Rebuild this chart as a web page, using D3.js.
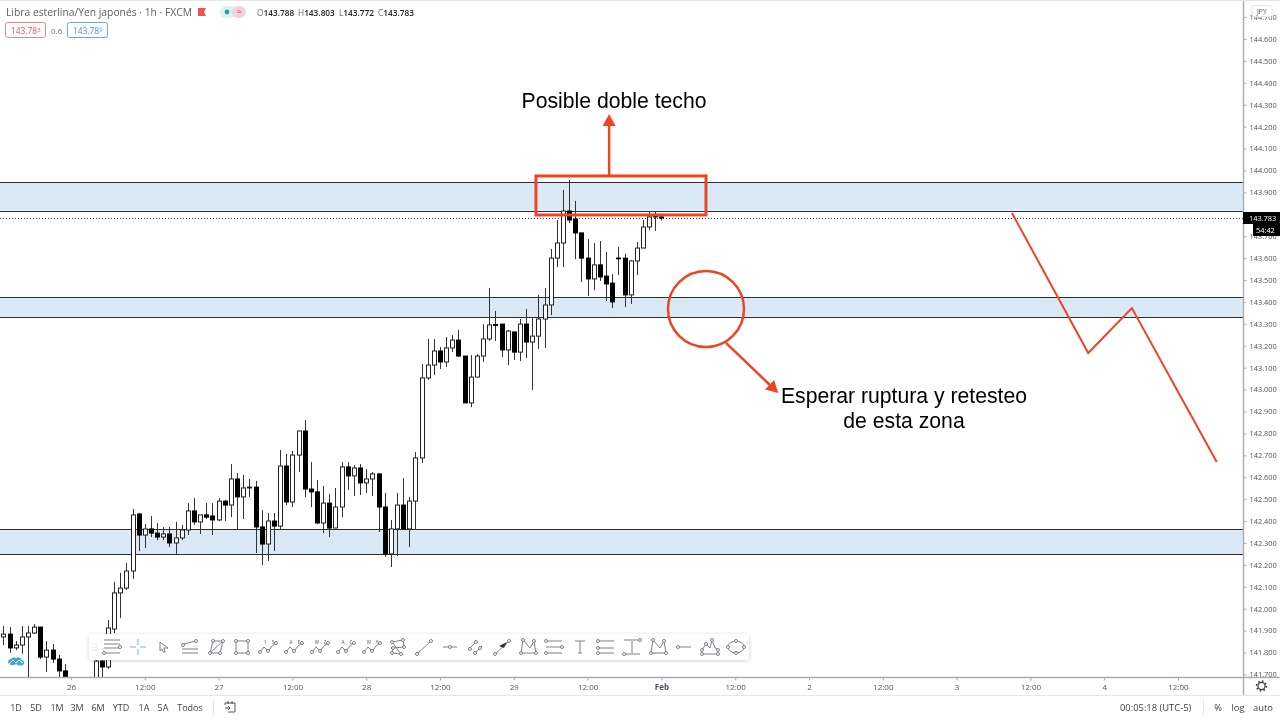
<!DOCTYPE html>
<html>
<head>
<meta charset="utf-8">
<script src="https://d3js.org/d3.v7.min.js"></script>
<style>
  html, body { margin: 0; padding: 0; background: #fff; }
  svg { display: block; filter: blur(0.35px); font-family: "Open Sans", sans-serif; }
</style>
</head>
<body>
<svg id="chart" width="1280" height="720"></svg>
<script>
// Hourly candles, index 0 = the "26" tick. null = below the visible price range
const firstIndex = -11;
const opens = [
  141.871,141.884,141.821,141.834,141.871,141.889,141.916,141.779,141.811,141.770,
  141.716,null,null,null,null,141.640,141.761,141.734,141.907,142.072,
  142.094,142.172,142.432,142.336,142.364,142.345,142.327,142.341,142.300,142.323,
  142.359,142.446,142.396,142.428,142.423,142.405,142.491,142.473,142.592,142.510,
  142.551,142.555,142.373,142.295,142.400,142.377,142.651,142.487,142.701,142.811,
  142.546,142.533,142.391,142.482,142.368,142.464,142.647,142.606,142.642,142.574,
  142.592,142.615,142.464,142.250,142.364,142.473,142.364,142.491,142.688,143.053,
  143.112,143.176,143.126,143.190,143.226,143.153,142.939,143.057,143.153,143.231,
  143.297,143.299,143.181,143.263,143.171,143.299,143.217,143.244,143.322,143.386,
  143.600,143.669,143.815,143.778,143.715,143.600,143.505,143.569,143.518,143.486,
  143.600,143.600,143.432,143.587,143.646,143.742,143.792,143.788
];
const highs = [
  141.921,141.916,141.852,141.921,141.921,141.930,141.916,141.852,141.839,141.789,
  141.747,null,null,null,null,141.770,141.789,141.948,142.122,142.163,
  142.208,142.455,142.437,142.386,142.423,142.391,142.373,142.373,142.396,142.382,
  142.482,142.505,142.428,142.482,142.482,142.505,142.496,142.660,142.619,142.610,
  142.592,142.583,142.450,142.437,142.437,142.724,142.706,142.720,142.811,142.861,
  142.669,142.587,142.560,142.523,142.551,142.669,142.669,142.656,142.660,142.637,
  142.624,142.619,142.528,142.405,142.528,142.596,142.510,142.715,143.117,143.231,
  143.231,143.194,143.240,143.249,143.272,143.153,143.158,143.162,143.299,143.464,
  143.359,143.299,143.272,143.263,143.322,143.368,143.331,143.432,143.464,143.642,
  143.774,143.911,143.956,143.861,143.715,143.687,143.669,143.678,143.628,143.527,
  143.651,143.619,143.591,143.673,143.774,143.810,143.815,143.803
];
const lows = [
  141.834,141.798,141.811,141.779,141.688,141.884,141.770,141.711,141.752,141.688,
  141.640,null,null,null,null,141.620,141.660,141.725,141.889,141.957,
  142.085,142.136,142.263,142.277,142.327,142.313,142.313,142.282,142.250,142.313,
  142.336,142.382,142.341,142.409,142.336,142.400,142.400,142.418,142.364,142.409,
  142.510,142.254,142.199,142.218,142.263,142.364,142.473,142.464,142.624,142.510,
  142.464,142.386,142.345,142.327,142.368,142.418,142.542,142.514,142.519,142.528,
  142.514,142.350,142.236,142.190,142.240,142.364,142.282,142.359,142.665,143.044,
  143.066,143.094,143.103,143.171,143.149,142.939,142.920,143.057,143.126,143.222,
  143.222,143.149,143.112,143.135,143.130,143.144,142.998,143.185,143.190,143.340,
  143.559,143.559,143.760,143.596,143.491,143.427,143.454,143.496,143.404,143.372,
  143.523,143.377,143.391,143.523,143.646,143.728,143.724,143.772
];
const closes = [
  141.884,141.821,141.834,141.871,141.889,141.916,141.779,141.811,141.770,141.716,
  141.660,null,null,null,null,141.761,141.734,141.912,142.072,142.094,
  142.172,142.428,142.336,142.364,142.345,142.327,142.341,142.300,142.323,142.359,
  142.446,142.396,142.428,142.418,142.405,142.491,142.473,142.592,142.510,142.551,
  142.555,142.373,142.295,142.400,142.377,142.651,142.487,142.701,142.811,142.546,
  142.533,142.391,142.482,142.368,142.464,142.647,142.606,142.642,142.574,142.592,
  142.615,142.464,142.250,142.364,142.473,142.364,142.491,142.688,143.053,143.112,
  143.176,143.126,143.190,143.226,143.153,142.939,143.057,143.153,143.231,143.295,
  143.293,143.181,143.267,143.171,143.299,143.217,143.244,143.322,143.386,143.600,
  143.669,143.815,143.774,143.715,143.600,143.505,143.569,143.514,143.482,143.400,
  143.597,143.432,143.587,143.646,143.742,143.788,143.788,143.783
];

// Support / resistance zones
const zoneTops = [143.945, 143.418, 142.361];
const zoneBottoms = [143.815, 143.327, 142.247];

// Axis ticks
const timeTicks = [0, 12, 24, 36, 48, 60, 72, 84, 96, 108, 120, 132, 144, 156, 168, 180];
const timeLabels = ["26", "12:00", "27", "12:00", "28", "12:00", "29", "12:00", "Feb", "12:00", "2", "12:00", "3", "12:00", "4", "12:00"];
const priceTicks = d3.range(141.7, 144.75, 0.1);
const lastPrice = 143.783;

// Drawings, in candle index / price
const boxIndex = [75.6, 103.25];
const boxPrice = [143.975, 143.797];
const upArrowIndex = [87.5, 87.5];
const upArrowPrice = [143.975, 144.258];
const circleIndex = 103.25;
const circlePrice = 143.368;
const downArrowIndex = [106.5, 115];
const downArrowPrice = [143.213, 142.984];
const zigzagIndex = [153, 165.4, 172.5, 186.3];
const zigzagPrice = [143.806, 143.167, 143.372, 142.669];

const rangeButtons = ["1D", "5D", "1M", "3M", "6M", "YTD", "1A", "5A", "Todos"];
const rangeCenters = [16, 36, 57, 77, 98, 121, 144, 163, 190];
const waveLabels = [["1", "5"], ["A", "E"], ["W", "Z"], ["A", "C"], ["W", "Y"]];

const plotW = 1243, plotH = 677;
const red = "#ef4423", textCol = "#50535e", axisCol = "#a9acb5", iconCol = "#6f727d";

const x = d3.scaleLinear().domain([-71 / 6.15, (plotW - 71) / 6.15]).range([0, plotW]);
const y = d3.scaleLinear().domain([144.778, 141.6882]).range([0, plotH]);

const svg = d3.select("#chart");
svg.append("clipPath").attr("id", "plot").append("rect").attr("width", plotW).attr("height", plotH);
const plot = svg.append("g").attr("clip-path", "url(#plot)");

// zones
plot.selectAll("rect.zone").data(d3.range(zoneTops.length)).join("rect")
  .attr("class", "zone")
  .attr("x", 0).attr("width", plotW)
  .attr("y", i => Math.floor(y(zoneTops[i])))
  .attr("height", i => y(zoneBottoms[i]) - y(zoneTops[i]))
  .attr("fill", "#dbe9f6");
plot.selectAll("line.zone").data([...zoneTops, ...zoneBottoms]).join("line")
  .attr("class", "zone")
  .attr("x1", 0).attr("x2", plotW)
  .attr("y1", d => Math.floor(y(d)) + 0.5).attr("y2", d => Math.floor(y(d)) + 0.5)
  .attr("stroke", "#2a2e39");

// last price line
plot.append("line")
  .attr("x1", 0).attr("x2", plotW)
  .attr("y1", Math.round(y(lastPrice)) + 0.5).attr("y2", Math.round(y(lastPrice)) + 0.5)
  .attr("stroke", "#333").attr("stroke-dasharray", "1 2");

// candles
const rows = d3.range(opens.length).filter(k => opens[k] !== null);
const candle = plot.selectAll("g.candle").data(rows).join("g").attr("class", "candle");
const cx = k => Math.round(x(k + firstIndex)) + 0.5;
candle.append("line")
  .attr("x1", cx).attr("x2", cx)
  .attr("y1", k => y(highs[k])).attr("y2", k => y(lows[k]))
  .attr("stroke", "#333");
candle.append("rect")
  .attr("x", k => cx(k) - 2).attr("width", 4)
  .attr("y", k => y(Math.max(opens[k], closes[k])))
  .attr("height", k => Math.max(0.5, Math.abs(y(opens[k]) - y(closes[k]))))
  .attr("fill", k => closes[k] >= opens[k] ? "#fff" : "#000")
  .attr("stroke", k => closes[k] >= opens[k] ? "#222" : "#000");

// hand drawn annotations
function arrow(x1, y1, x2, y2) {
  const a = Math.atan2(y2 - y1, x2 - x1), len = 12, half = 6.5;
  const bx = x2 - len * Math.cos(a), by = y2 - len * Math.sin(a);
  plot.append("line").attr("x1", x1).attr("y1", y1).attr("x2", bx).attr("y2", by)
    .attr("stroke", red).attr("stroke-width", 2.5);
  plot.append("path").attr("fill", red)
    .attr("d", d3.line()([[x2, y2],
      [bx - half * Math.sin(a), by + half * Math.cos(a)],
      [bx + half * Math.sin(a), by - half * Math.cos(a)]]) + "Z");
}
plot.append("rect")
  .attr("x", x(boxIndex[0])).attr("y", y(boxPrice[0]))
  .attr("width", x(boxIndex[1]) - x(boxIndex[0]))
  .attr("height", y(boxPrice[1]) - y(boxPrice[0]))
  .attr("fill", "none").attr("stroke", red).attr("stroke-width", 3);
arrow(x(upArrowIndex[0]), y(upArrowPrice[0]), x(upArrowIndex[1]), y(upArrowPrice[1]));
plot.append("circle")
  .attr("cx", x(circleIndex)).attr("cy", y(circlePrice)).attr("r", 38)
  .attr("fill", "none").attr("stroke", red).attr("stroke-width", 2.5);
arrow(x(downArrowIndex[0]), y(downArrowPrice[0]), x(downArrowIndex[1]), y(downArrowPrice[1]));
plot.append("path")
  .attr("d", d3.line().x(i => x(zigzagIndex[i])).y(i => y(zigzagPrice[i]))(d3.range(zigzagIndex.length)))
  .attr("fill", "none").attr("stroke", red).attr("stroke-width", 2);

const note = (t, px, py) => svg.append("text").text(t).attr("x", px).attr("y", py)
  .attr("text-anchor", "middle").attr("font-family", "Liberation Sans, Arial, sans-serif")
  .attr("font-size", 21.2).attr("fill", "#000");
note("Posible doble techo", 614, 108);
note("Esperar ruptura y retesteo", 904, 403);
note("de esta zona", 904, 428);

// axes
const yAxis = svg.append("g").attr("transform", `translate(${plotW + 0.5},0)`)
  .call(d3.axisRight(y).tickValues(priceTicks).tickFormat(d3.format(".3f")).tickSize(3).tickPadding(3));
const xAxis = svg.append("g").attr("transform", `translate(0,${plotH + 0.5})`)
  .call(d3.axisBottom(x).tickValues(timeTicks).tickFormat((d, i) => timeLabels[i]).tickSize(3).tickPadding(4));
[xAxis, yAxis].forEach(a => {
  a.selectAll("path.domain").remove();
  a.selectAll("line").attr("stroke", axisCol);
  a.selectAll("text").attr("fill", textCol).attr("font-family", "Open Sans, sans-serif");
});
yAxis.selectAll("text").attr("font-size", 7.4);
xAxis.selectAll("text").attr("font-size", 8)
  .attr("font-weight", (d, i) => timeLabels[i] === "Feb" ? 700 : 400);

svg.append("line").attr("x1", plotW + 0.5).attr("x2", plotW + 0.5).attr("y1", 0).attr("y2", 695)
  .attr("stroke", axisCol).attr("stroke-width", 1.4);
svg.append("line").attr("x1", 0).attr("x2", 1280).attr("y1", plotH + 0.5).attr("y2", plotH + 0.5)
  .attr("stroke", axisCol).attr("stroke-width", 1.4);
svg.append("line").attr("x1", 0).attr("x2", 1280).attr("y1", 695.5).attr("y2", 695.5)
  .attr("stroke", "#e6e7ea");
svg.append("line").attr("x1", 0).attr("x2", 1280).attr("y1", 0.5).attr("y2", 0.5)
  .attr("stroke", "#e6e7ea");

// price labels on the axis
svg.append("rect").attr("x", plotW).attr("y", 212).attr("width", 37).attr("height", 12).attr("fill", "#000");
svg.append("rect").attr("x", 1253).attr("y", 224).attr("width", 27).attr("height", 12).attr("fill", "#000");
svg.append("text").text(d3.format(".3f")(lastPrice)).attr("x", 1249).attr("y", 221)
  .attr("font-size", 7.4).attr("fill", "#fff");
svg.append("text").text("54:42").attr("x", 1256).attr("y", 233)
  .attr("font-size", 7.4).attr("fill", "#fff");
svg.append("rect").attr("x", 1252).attr("y", 5.5).attr("width", 20).attr("height", 11).attr("rx", 2)
  .attr("fill", "#fff").attr("stroke", "#e3e4e8");
svg.append("text").text("JPY").attr("x", 1262).attr("y", 13.5).attr("text-anchor", "middle")
  .attr("font-size", 7).attr("fill", textCol);

// header
const label = (t, px, py, size, fill, anchor, weight) => svg.append("text").text(t)
  .attr("x", px).attr("y", py).attr("font-size", size).attr("fill", fill)
  .attr("text-anchor", anchor || "start").attr("font-weight", weight || 400);
label("Libra esterlina/Yen japonés · 1h · FXCM", 6, 16, 10.3, "#5b5e69");
svg.append("path").attr("d", "M198 8H206L204 12L206 16H198Z").attr("fill", "#ef5350");
svg.append("rect").attr("x", 220).attr("y", 6).attr("width", 16).attr("height", 12).attr("rx", 6).attr("fill", "#dff1ee");
svg.append("rect").attr("x", 232).attr("y", 6).attr("width", 14).attr("height", 12).attr("rx", 6).attr("fill", "#f8cfdc");
svg.append("circle").attr("cx", 227).attr("cy", 12).attr("r", 2.4).attr("fill", "#26a69a");
label("≈", 239, 15, 9, "#e0457b", "middle");
["O143.788", "H143.803", "L143.772", "C143.783"].forEach((s, i) => {
  const t = label(s[0], [257, 298, 339, 378][i], 15.5, 8.3, "#6a6d78");
  t.append("tspan").text(s.slice(1)).attr("fill", "#222").attr("font-weight", 600);
});
svg.append("rect").attr("x", 5.5).attr("y", 22.5).attr("width", 40).attr("height", 15).attr("rx", 2)
  .attr("fill", "#fff").attr("stroke", "#e8868a");
label("143.78", 11, 33.5, 8.4, "#d9545a").append("tspan").text("3").attr("font-size", 6).attr("dy", -2);
label("0.6", 51, 33.5, 8, "#6a6d78");
svg.append("rect").attr("x", 67.5).attr("y", 22.5).attr("width", 40).attr("height", 15).attr("rx", 2)
  .attr("fill", "#fff").attr("stroke", "#62aede");
label("143.78", 73, 33.5, 8.4, "#3f97d4").append("tspan").text("9").attr("font-size", 6).attr("dy", -2);

// logo bubble
svg.append("circle").attr("cx", 16).attr("cy", 661).attr("r", 10).attr("fill", "#fff").attr("opacity", 0.9);
svg.append("path").attr("d", "M8 663Q8 659 11 659Q13 656 16 658Q20 656 22 660Q25 661 24 664Q21 667 16 664Q12 667 8 663Z")
  .attr("fill", "#3fa7dc");
svg.append("path").attr("d", "M9 664L13 660L16 663L19 660L23 663")
  .attr("fill", "none").attr("stroke", "#fff").attr("stroke-width", 1);

// drawing toolbar
svg.append("defs").append("filter").attr("id", "shadow")
  .append("feDropShadow").attr("dx", 0).attr("dy", 1).attr("stdDeviation", 2)
  .attr("flood-color", "#000").attr("flood-opacity", 0.18);
svg.append("rect").attr("x", 89).attr("y", 634).attr("width", 660).attr("height", 26).attr("rx", 3)
  .attr("fill", "#fff").attr("filter", "url(#shadow)");
svg.append("g").selectAll("circle").data([[93, 644], [96, 644], [93, 647], [96, 647], [93, 650], [96, 650]]).join("circle")
  .attr("cx", d => d[0]).attr("cy", d => d[1]).attr("r", 0.6).attr("fill", "#b9bbc2");

const tool = svg.append("g").attr("fill", "none").attr("stroke", iconCol).attr("stroke-width", 0.9);
function iconLine(c, pts) {
  tool.append("path").attr("d", d3.line()(pts.map(p => [c + p[0], 647 + p[1]])));
}
function iconNodes(c, pts) {
  tool.append("g").selectAll("circle").data(pts).join("circle")
    .attr("cx", p => c + p[0]).attr("cy", p => 647 + p[1]).attr("r", 1.5).attr("fill", "#fff");
}
function icon(k, lines, nodes) {
  const c = 112 + 26 * k;
  lines.forEach(l => iconLine(c, l));
  iconNodes(c, nodes || []);
}
const zig = [[-8, 5], [-4, 0], [0, 4], [4, -1], [8, -4]];
icon(0, [[[-8, -7], [8, -7]], [[-8, -3], [8, -3]], [[-8, 1], [8, 1]], [[-6, 6], [8, 6]]], [[8, 0], [-8, 6]]);
tool.append("g").attr("stroke", "#62aede").call(g => {
  [[[-8, 0], [-2, 0]], [[2, 0], [8, 0]], [[0, -8], [0, -2]], [[0, 2], [0, 8]]].forEach(l =>
    g.append("path").attr("d", d3.line()(l.map(p => [138 + p[0], 647 + p[1]]))));
});
icon(2, [[[-4, -5], [4, 1], [0, 1], [1, 5], [-1, 5], [-2, 2], [-4, 4], [-4, -5]]]);
icon(3, [[[-8, 2], [8, 2]], [[-8, 6], [8, 6]], [[-7, 0], [-6, -3], [6, -6]]], [[-7, -2], [6, -6]]);
icon(4, [[[-6, 6], [-3, -6], [7, -6], [4, 6], [-6, 6], [7, -6]]], [[-6, 6], [-3, -6], [7, -6], [4, 6]]);
icon(5, [[[-6, -6], [6, -6], [6, 6], [-6, 6], [-6, -6]]], [[-6, -6], [6, -6], [6, 6], [-6, 6]]);
[6, 7, 8, 9, 10].forEach((k, i) => {
  icon(k, [zig], [zig[0], zig[2], zig[4]]);
  waveLabels[i].forEach((t, j) => svg.append("text").text(t)
    .attr("x", 112 + 26 * k + (j ? 5 : -3)).attr("y", 644).attr("text-anchor", "middle")
    .attr("font-size", 4.5).attr("font-weight", 600).attr("fill", iconCol));
});
icon(11, [[[-6, -5], [5, -7], [6, 0], [-5, 1], [-6, 6], [3, 7], [-6, -5]]], [[-6, -5], [5, -7], [6, 0], [-5, 1], [-6, 6], [3, 7]]);
icon(12, [[[-7, 7], [7, -6]]], [[-7, 7], [7, -6]]);
icon(13, [[[-7, 0], [7, 0]]], [[0, 0]]);
icon(14, [[[-8, 3], [1, -6]], [[-2, 7], [6, -1]]], [[-6, 2], [0, -5], [-1, 6], [4, 1]]);
icon(15, [[[-7, 7], [7, -6]]], [[-7, 7], [7, -6]]);
svg.append("path").attr("d", "M507 642L504 648L499 646Z").attr("fill", "#333");
icon(16, [[[-7, 6], [-5, -7], [2, 1], [6, -6], [8, 6], [-7, 6]]], [[-7, 6], [-5, -7], [6, -6], [8, 6]]);
icon(17, [[[-8, -6], [8, -6]], [[-8, 0], [8, 0]], [[-8, 6], [8, 6]]], [[-8, -6], [8, 0], [-8, 6]]);
icon(18, [[[-5, -6], [5, -6]], [[0, -6], [0, 6]], [[-2, 6], [2, 6]]]);
icon(19, [[[-8, -6], [8, -6]], [[-8, 1], [8, 1]], [[-8, 6], [8, 6]]], [[-8, -6], [-8, 1], [-8, 6]]);
icon(20, [[[-8, -7], [8, -7]], [[0, -6], [0, 6]], [[-8, 7], [8, 7]]], [[8, -7], [-8, 7]]);
icon(21, [[[-7, 6], [-5, -7], [2, 1], [6, -6], [8, 6], [-7, 6]]], [[-7, 6], [-5, -7], [6, -6], [8, 6]]);
icon(22, [[[-6, 0], [7, 0]]], [[-6, 0]]);
icon(23, [[[-8, 7], [8, 7]], [[-8, 3], [-4, -3], [0, 1], [2, -7], [5, 1], [8, 3]]], [[-8, 3], [-4, -3], [2, -7], [8, 3], [-8, 7], [8, 7]]);
tool.append("ellipse").attr("cx", 736).attr("cy", 647).attr("rx", 8).attr("ry", 6);
iconNodes(736, [[-8, 0], [8, 0], [0, -6], [0, 6]]);

// bottom bar
rangeButtons.forEach((t, i) => label(t, rangeCenters[i], 710.5, 9, "#3c3f4a", "middle"));
svg.append("line").attr("x1", 213.5).attr("x2", 213.5).attr("y1", 699).attr("y2", 715).attr("stroke", "#e6e7ea");
svg.append("path").attr("fill", "none").attr("stroke", "#444").attr("stroke-width", 0.9)
  .attr("d", "M225 705V703H235V712H228M228 701V704M232 701V704M225 708H230M228 706L230 708L228 710");
label("00:05:18 (UTC-5)", 1120, 710.5, 9.4, "#3c3f4a");
svg.append("line").attr("x1", 1203.5).attr("x2", 1203.5).attr("y1", 699).attr("y2", 715).attr("stroke", "#e6e7ea");
label("%", 1218, 710.5, 9.4, "#3c3f4a", "middle");
label("log", 1238, 710.5, 9.4, "#3c3f4a", "middle");
label("auto", 1263, 710.5, 9.4, "#3c3f4a", "middle");
svg.append("circle").attr("cx", 1261.5).attr("cy", 686).attr("r", 3.6).attr("fill", "#fff")
  .attr("stroke", "#333").attr("stroke-width", 1.2);
svg.append("circle").attr("cx", 1261.5).attr("cy", 686).attr("r", 5).attr("fill", "none")
  .attr("stroke", "#333").attr("stroke-width", 1.4).attr("stroke-dasharray", "1.6 2.3");
</script>
</body>
</html>
